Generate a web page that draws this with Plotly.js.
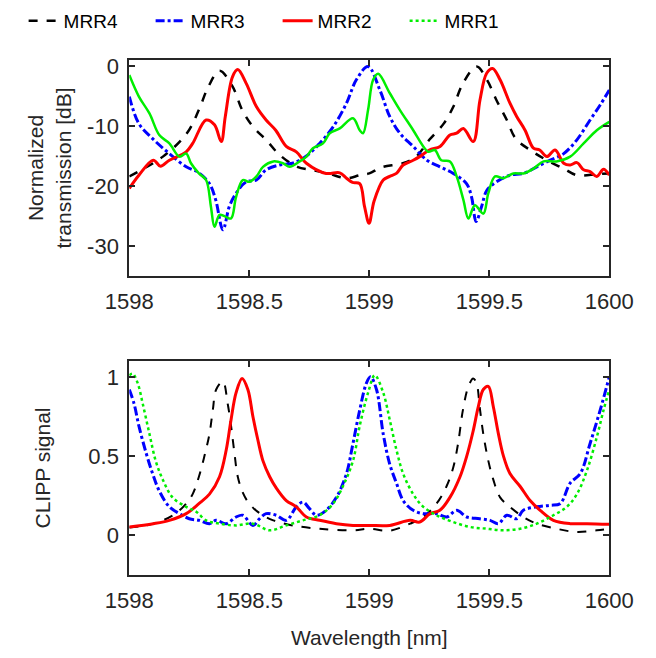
<!DOCTYPE html>
<html>
<head>
<meta charset="utf-8">
<script src="https://cdn.plot.ly/plotly-3.0.1.min.js"></script>
<style>html,body{margin:0;padding:0;background:#fff;}</style>
</head>
<body>
<div id="chart" style="width:656px;height:658px;"></div>
<script>
// ---------- axis ticks ----------
const xTickVals = [1598, 1598.5, 1599, 1599.5, 1600];
const xTickText = ["1598", "1598.5", "1599", "1599.5", "1600"];
const yTopTickVals = [-30, -20, -10, 0];
const yTopTickText = ["-30", "-20", "-10", "0"];
const yBotTickVals = [0, 0.5, 1];
const yBotTickText = ["0", "0.5", "1"];

// ---------- top panel: normalized transmission [dB] ----------
const mrr4TopWl = [1598.0,1598.14,1598.24,1598.29,1598.33,1598.376,1598.43,1598.47,1598.515,1598.57,1598.626,1598.70,1598.77,1598.835,1598.905,1598.96,1599.0,1599.05,1599.14,1599.195,1599.25,1599.31,1599.35,1599.39,1599.447,1599.49,1599.53,1599.573,1599.61,1599.67,1599.74,1599.81,1599.865,1599.95,1600.0];
const mrr4TopDb = [-18.4,-15.1,-11.2,-7.3,-3.4,-0.8,-3.4,-7.3,-10.1,-12.3,-14.8,-16.8,-17.4,-18.0,-18.7,-18.2,-17.9,-16.9,-16.2,-15.1,-12.3,-9.6,-6.8,-2.9,-0.1,-2.3,-5.7,-9.0,-12.1,-14.0,-15.7,-17.1,-18.2,-18.0,-17.9];

const mrr3TopWl = [1598.0,1598.04,1598.097,1598.167,1598.237,1598.29,1598.334,1598.36,1598.39,1598.417,1598.445,1598.487,1598.53,1598.57,1598.626,1598.68,1598.738,1598.793,1598.85,1598.905,1598.946,1598.995,1599.044,1599.085,1599.127,1599.183,1599.24,1599.294,1599.35,1599.405,1599.426,1599.445,1599.468,1599.49,1599.53,1599.586,1599.642,1599.698,1599.754,1599.81,1599.865,1599.92,1599.962,1600.0];
const mrr3TopDb = [-5.1,-9.6,-12.1,-14.6,-16.8,-17.8,-19.6,-22.3,-27.3,-23.4,-21.2,-19.3,-19.0,-17.3,-16.5,-16.2,-15.0,-12.9,-10.1,-6.2,-2.3,-0.1,-4.0,-8.4,-11.2,-13.4,-15.7,-16.8,-17.9,-19.6,-21.8,-25.9,-23.4,-20.7,-19.3,-18.2,-17.9,-16.8,-15.7,-14.6,-12.3,-9.0,-6.5,-4.0];

const mrr2TopWl = [1598.0,1598.04,1598.10,1598.13,1598.167,1598.237,1598.264,1598.32,1598.355,1598.383,1598.40,1598.43,1598.452,1598.487,1598.53,1598.57,1598.61,1598.654,1598.696,1598.738,1598.82,1598.877,1598.905,1598.93,1598.96,1598.98,1598.999,1599.02,1599.058,1599.085,1599.113,1599.141,1599.183,1599.21,1599.25,1599.295,1599.336,1599.364,1599.392,1599.433,1599.461,1599.489,1599.514,1599.545,1599.586,1599.614,1599.649,1599.684,1599.71,1599.74,1599.774,1599.81,1599.837,1599.865,1599.893,1599.92,1599.948,1599.976,1600.0];
const mrr2TopDb = [-20.4,-18.2,-15.7,-16.7,-15.7,-14.3,-12.9,-9.0,-9.8,-12.6,-8.4,-1.8,-0.6,-2.9,-6.8,-9.0,-10.7,-13.4,-14.3,-16.2,-17.9,-17.8,-18.7,-19.4,-19.6,-23.4,-26.2,-22.5,-19.0,-18.4,-17.9,-16.5,-15.7,-15.1,-14.0,-13.4,-11.5,-11.2,-10.4,-12.6,-5.7,-1.2,-0.4,-2.3,-6.2,-8.4,-10.7,-13.7,-14.0,-15.1,-14.0,-16.2,-16.5,-16.1,-17.3,-17.6,-18.4,-17.2,-18.2];

const mrr1TopWl = [1598.0,1598.04,1598.084,1598.125,1598.167,1598.209,1598.237,1598.257,1598.29,1598.32,1598.34,1598.355,1598.376,1598.40,1598.424,1598.445,1598.473,1598.50,1598.53,1598.557,1598.60,1598.64,1598.668,1598.71,1598.738,1598.765,1598.807,1598.835,1598.877,1598.932,1598.96,1598.974,1598.995,1599.016,1599.037,1599.085,1599.127,1599.183,1599.225,1599.246,1599.273,1599.30,1599.336,1599.364,1599.392,1599.413,1599.44,1599.475,1599.496,1599.524,1599.559,1599.60,1599.642,1599.684,1599.726,1599.78,1599.837,1599.893,1599.948,1600.0];
const mrr1TopDb = [-1.5,-5.1,-7.9,-11.5,-12.9,-15.1,-14.6,-16.2,-17.9,-19.0,-23.4,-26.8,-24.8,-25.1,-25.4,-21.8,-19.0,-19.3,-18.4,-16.8,-15.9,-16.2,-16.8,-15.9,-15.1,-13.7,-12.9,-11.2,-10.4,-8.7,-10.7,-11.2,-7.3,-2.3,-1.3,-4.5,-7.3,-10.7,-13.4,-14.3,-14.0,-15.7,-15.9,-18.4,-22.3,-25.4,-23.2,-24.6,-21.2,-18.4,-18.7,-17.9,-17.9,-17.1,-15.9,-15.9,-15.1,-12.9,-10.7,-9.3];

// ---------- bottom panel: CLIPP signal ----------
const mrr4BotWl = [1598.0,1598.07,1598.14,1598.195,1598.237,1598.264,1598.29,1598.313,1598.334,1598.348,1598.362,1598.39,1598.41,1598.424,1598.438,1598.452,1598.473,1598.50,1598.543,1598.60,1598.68,1598.793,1598.932,1599.0,1599.085,1599.17,1599.225,1599.28,1599.322,1599.35,1599.37,1599.39,1599.413,1599.433,1599.447,1599.46,1599.475,1599.496,1599.517,1599.545,1599.586,1599.642,1599.698,1599.78,1599.865,1599.948,1600.0];
const mrr4BotSig = [0.05,0.063,0.095,0.14,0.20,0.26,0.37,0.50,0.64,0.79,0.92,0.97,0.83,0.69,0.52,0.37,0.27,0.20,0.14,0.095,0.063,0.042,0.032,0.042,0.03,0.074,0.116,0.20,0.31,0.43,0.58,0.79,0.94,0.99,0.96,0.81,0.64,0.47,0.35,0.24,0.18,0.116,0.074,0.042,0.021,0.032,0.042];

const mrr3BotWl = [1598.0,1598.02,1598.04,1598.07,1598.097,1598.125,1598.167,1598.209,1598.25,1598.29,1598.334,1598.362,1598.404,1598.445,1598.473,1598.515,1598.543,1598.57,1598.612,1598.654,1598.696,1598.724,1598.75,1598.78,1598.82,1598.863,1598.905,1598.932,1598.96,1598.988,1599.005,1599.03,1599.058,1599.085,1599.113,1599.141,1599.183,1599.225,1599.28,1599.322,1599.364,1599.406,1599.46,1599.503,1599.538,1599.573,1599.614,1599.642,1599.698,1599.754,1599.795,1599.837,1599.879,1599.92,1599.962,1600.0];
const mrr3BotSig = [0.92,0.83,0.69,0.52,0.39,0.28,0.18,0.137,0.105,0.095,0.074,0.095,0.074,0.116,0.127,0.063,0.105,0.137,0.127,0.095,0.18,0.21,0.17,0.127,0.158,0.24,0.39,0.58,0.79,0.96,1.0,0.92,0.64,0.45,0.33,0.22,0.158,0.137,0.137,0.116,0.158,0.116,0.105,0.095,0.074,0.127,0.105,0.158,0.18,0.19,0.20,0.33,0.39,0.58,0.79,1.0];

const mrr2BotWl = [1598.0,1598.1,1598.167,1598.237,1598.29,1598.334,1598.376,1598.404,1598.424,1598.445,1598.47,1598.494,1598.515,1598.536,1598.557,1598.585,1598.612,1598.654,1598.696,1598.738,1598.793,1598.863,1598.932,1599.0,1599.085,1599.17,1599.21,1599.253,1599.294,1599.336,1599.378,1599.406,1599.433,1599.454,1599.475,1599.496,1599.517,1599.538,1599.559,1599.586,1599.628,1599.67,1599.712,1599.767,1599.837,1599.907,1600.0];
const mrr2BotSig = [0.053,0.074,0.095,0.137,0.20,0.26,0.37,0.54,0.73,0.90,0.99,0.92,0.75,0.60,0.47,0.37,0.30,0.22,0.18,0.116,0.095,0.074,0.063,0.063,0.063,0.095,0.084,0.137,0.158,0.24,0.37,0.50,0.66,0.81,0.92,0.94,0.81,0.64,0.50,0.39,0.31,0.22,0.158,0.095,0.074,0.074,0.07];

const mrr1BotWl = [1598.0,1598.014,1598.035,1598.056,1598.084,1598.11,1598.14,1598.18,1598.237,1598.28,1598.32,1598.376,1598.445,1598.515,1598.585,1598.654,1598.724,1598.793,1598.849,1598.89,1598.932,1598.96,1598.995,1599.023,1599.058,1599.085,1599.113,1599.141,1599.183,1599.225,1599.28,1599.35,1599.42,1599.49,1599.559,1599.628,1599.698,1599.767,1599.823,1599.865,1599.907,1599.948,1599.976,1600.0];
const mrr1BotSig = [1.01,1.02,0.96,0.83,0.64,0.47,0.35,0.24,0.18,0.148,0.095,0.074,0.063,0.074,0.032,0.063,0.095,0.127,0.20,0.31,0.47,0.69,0.90,1.01,0.90,0.73,0.54,0.39,0.26,0.18,0.127,0.084,0.053,0.042,0.032,0.042,0.074,0.127,0.18,0.26,0.41,0.62,0.79,0.92];

// ---------- styles ----------
const C4 = '#000000', C3 = '#0000ff', C2 = '#ff0000', C1 = '#00ee00';
const AX = '#262626';

const traces = [
  {x: mrr4TopWl, y: mrr4TopDb, xaxis:'x', yaxis:'y', name:'MRR4', legendgroup:'4', legendrank:1,
   mode:'lines', line:{color:C4, width:2.5, dash:'dash', shape:'spline'}},
  {x: mrr3TopWl, y: mrr3TopDb, xaxis:'x', yaxis:'y', name:'MRR3', legendgroup:'3', legendrank:2,
   mode:'lines', line:{color:C3, width:3, dash:'dashdot', shape:'spline'}},
  {x: mrr2TopWl, y: mrr2TopDb, xaxis:'x', yaxis:'y', name:'MRR2', legendgroup:'2', legendrank:3,
   mode:'lines', line:{color:C2, width:3, shape:'spline'}},
  {x: mrr1TopWl, y: mrr1TopDb, xaxis:'x', yaxis:'y', name:'MRR1', legendgroup:'1', showlegend:false,
   mode:'lines', line:{color:C1, width:2.5, shape:'spline'}},

  {x: mrr4BotWl, y: mrr4BotSig, xaxis:'x2', yaxis:'y2', name:'MRR4', legendgroup:'4', showlegend:false,
   mode:'lines', line:{color:C4, width:2, dash:'dash', shape:'spline'}},
  {x: mrr3BotWl, y: mrr3BotSig, xaxis:'x2', yaxis:'y2', name:'MRR3', legendgroup:'3', showlegend:false,
   mode:'lines', line:{color:C3, width:3, dash:'dashdot', shape:'spline'}},
  {x: mrr2BotWl, y: mrr2BotSig, xaxis:'x2', yaxis:'y2', name:'MRR2', legendgroup:'2', showlegend:false,
   mode:'lines', line:{color:C2, width:3, shape:'spline'}},
  {x: mrr1BotWl, y: mrr1BotSig, xaxis:'x2', yaxis:'y2', name:'MRR1', legendgroup:'1', legendrank:4,
   mode:'lines', line:{color:C1, width:2.5, dash:'dot', shape:'spline'}}
];

const axisCommon = {
  ticks:'inside', ticklen:6, tickwidth:2, tickcolor:AX,
  showline:true, linewidth:2, linecolor:AX, mirror:'ticks',
  showgrid:false, zeroline:false, fixedrange:true,
  tickfont:{size:22, color:AX}
};

const layout = {
  width:656, height:658,
  margin:{l:0, r:0, t:0, b:0},
  paper_bgcolor:'#ffffff', plot_bgcolor:'#ffffff',
  font:{family:'"Liberation Sans", Arial, sans-serif', size:22, color:AX},
  showlegend:true,
  legend:{orientation:'h', x:0.036, y:0.997, xanchor:'left', yanchor:'top',
          font:{size:19, color:'#000'}, entrywidth:82, entrywidthmode:'pixels',
          bgcolor:'rgba(0,0,0,0)', traceorder:'normal'},
  xaxis: Object.assign({}, axisCommon, {domain:[0.1971,0.9288], anchor:'y', range:[1598,1600],
          tickmode:'array', tickvals:xTickVals, ticktext:xTickText, ticklabelstandoff:5}),
  yaxis: Object.assign({}, axisCommon, {domain:[0.5805,0.9088], anchor:'x', range:[-35,1],
          tickmode:'array', tickvals:yTopTickVals, ticktext:yTopTickText, ticklabelstandoff:4,
          title:{text:'Normalized<br>transmission [dB]', font:{size:21, color:AX}, standoff:10}}),
  xaxis2: Object.assign({}, axisCommon, {domain:[0.1971,0.9288], anchor:'y2', range:[1598,1600],
          tickmode:'array', tickvals:xTickVals, ticktext:xTickText, ticklabelstandoff:5,
          title:{text:'Wavelength [nm]', font:{size:21, color:AX}, standoff:18}}),
  yaxis2: Object.assign({}, axisCommon, {domain:[0.1261,0.4514], anchor:'x2', range:[-0.25,1.1],
          tickmode:'array', tickvals:yBotTickVals, ticktext:yBotTickText, ticklabelstandoff:4,
          title:{text:'CLIPP signal', font:{size:21, color:AX}, standoff:32}})
};

Plotly.newPlot('chart', traces, layout, {displayModeBar:false, staticPlot:true});
</script>
</body>
</html>
